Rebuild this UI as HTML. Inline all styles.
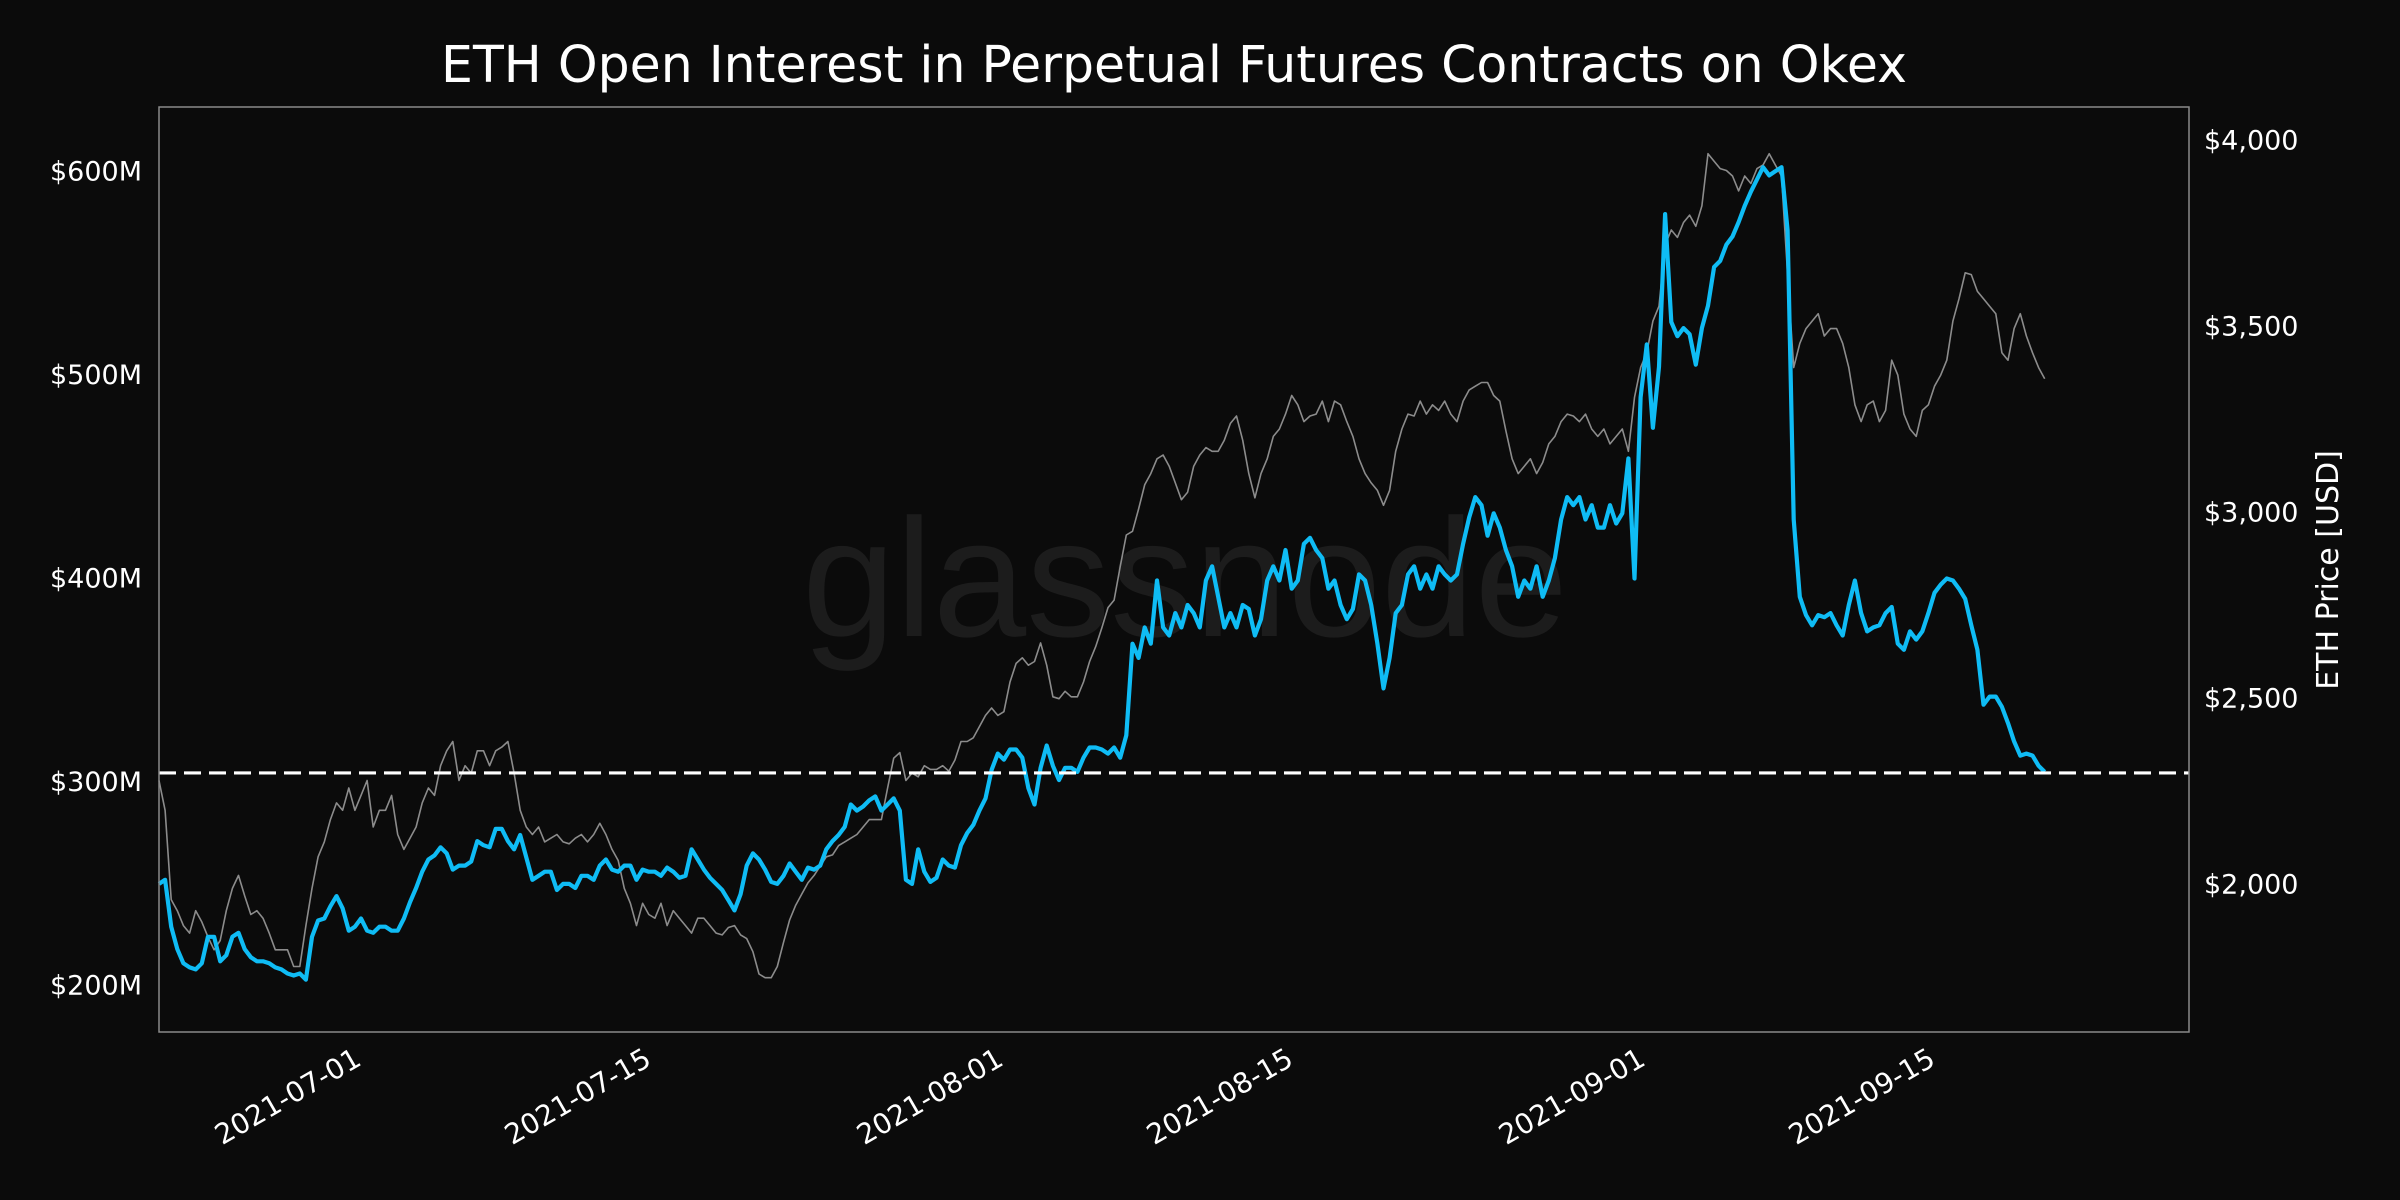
<!DOCTYPE html>
<html><head><meta charset="utf-8"><style>
html,body{margin:0;padding:0;background:#0b0b0b;}
svg{display:block;}
text{font-family:"DejaVu Sans","Liberation Sans",sans-serif;fill:#fff;}
</style></head><body>
<svg id="chart" width="2400" height="1200" viewBox="0 0 2400 1200" xmlns="http://www.w3.org/2000/svg">
<rect width="2400" height="1200" fill="#0b0b0b"/>
<text x="1174" y="82" font-size="50.5" text-anchor="middle">ETH Open Interest in Perpetual Futures Contracts on Okex</text>
<text x="1185" y="636" font-size="168" text-anchor="middle" style="fill:#1c1c1c;font-family:'Liberation Sans',sans-serif">glassnode</text>
<g id="plot"></g>
<rect x="159" y="107" width="2030" height="925" fill="none" stroke="#8a8a8a" stroke-width="1.5"/>
<text transform="translate(2338,570) rotate(-90)" font-size="30" text-anchor="middle">ETH Price [USD]</text>
</svg>
<script>
const startDay = -9.756;          // days relative to 2021-07-01 (2021-06-21 ~06:00)
const stepDays = 0.29564;         // sampling interval (~7.1h)
const leftTicks = [200,300,400,500,600];
const leftTickLabels = ["$200M","$300M","$400M","$500M","$600M"];
const rightTicks = [2000,2500,3000,3500,4000];
const rightTickLabels = ["$2,000","$2,500","$3,000","$3,500","$4,000"];
const dateTicks = [0,14,31,45,62,76];
const dateTickLabels = ["2021-07-01","2021-07-15","2021-08-01","2021-08-15","2021-09-01","2021-09-15"];
const thresholdOI = [304.5];
const openInterest = [250,252,229,218,211,209,208,211,224,224,212,215,224,226,218,214,212,212,211,209,208,206,205,206,203,224,232,233,239,244,238,227,229,233,227,226,229,229,227,227,233,241,248,256,262,264,268,265,257,259,259,261,271,269,268,277,277,271,267,274,263,252,254,256,256,247,250,250,248,254,254,252,259,262,257,256,259,259,252,257,256,256,254,258,256,253,254,267,262,257,253,250,247,242,237,245,259,265,262,257,251,250,254,260,256,252,258,257,259,267,271,274,278,289,286,288,291,293,286,289,292,286,252,250,267,256,251,253,262,259,258,269,275,279,286,292,306,314,311,316,316,312,297,289,307,318,308,301,307,307,305,312,317,317,316,314,317,312,323,368,361,376,368,399,376,372,383,376,387,383,376,399,406,391,376,383,376,387,385,372,380,399,406,399,414,395,399,417,420,414,410,395,399,387,380,385,402,399,387,368,346,361,383,387,402,406,395,402,395,406,402,399,402,417,430,440,436,421,432,425,414,406,391,399,395,406,391,399,410,429,440,436,440,429,436,425,425,436,427,432,459,400,489,515,474,504,579,526,519,523,520,505,523,534,553,556,564,568,575,583,590,596,602,598,600,602,571,429,391,382,377,382,381,383,377,372,387,399,383,374,376,377,383,386,368,365,374,370,374,383,393,397,400,399,395,390,377,365,338,342,342,337,329,320,313,314,313,308,305];
const ethPrice = [2280,2200,1960,1930,1890,1870,1930,1900,1860,1825,1850,1930,1990,2025,1970,1920,1930,1910,1870,1825,1825,1825,1780,1780,1890,1990,2075,2115,2175,2220,2200,2260,2200,2240,2280,2155,2200,2200,2240,2135,2095,2125,2155,2220,2260,2240,2320,2360,2385,2280,2320,2300,2360,2360,2320,2360,2370,2385,2300,2200,2155,2135,2155,2115,2125,2135,2115,2110,2125,2135,2115,2135,2165,2135,2095,2065,1990,1950,1890,1950,1920,1910,1950,1890,1930,1910,1890,1870,1910,1910,1890,1870,1865,1885,1890,1865,1855,1820,1760,1750,1750,1780,1845,1905,1945,1975,2005,2025,2050,2075,2080,2105,2115,2125,2135,2155,2175,2175,2175,2260,2340,2355,2280,2300,2290,2320,2310,2310,2320,2305,2335,2385,2385,2395,2425,2455,2475,2455,2465,2545,2595,2610,2590,2600,2650,2590,2505,2500,2520,2505,2505,2545,2600,2640,2690,2745,2765,2855,2940,2950,3010,3075,3105,3145,3155,3125,3080,3035,3055,3125,3155,3175,3165,3165,3195,3240,3260,3195,3105,3040,3105,3145,3205,3225,3265,3315,3290,3245,3260,3265,3300,3245,3300,3290,3245,3205,3145,3105,3080,3060,3020,3060,3165,3225,3265,3260,3300,3265,3290,3275,3300,3265,3245,3300,3330,3340,3350,3350,3315,3300,3220,3145,3105,3125,3145,3105,3135,3185,3205,3245,3265,3260,3245,3265,3225,3205,3225,3185,3205,3225,3165,3310,3390,3430,3515,3555,3720,3760,3740,3780,3800,3770,3825,3965,3945,3925,3920,3905,3865,3905,3885,3925,3935,3965,3935,3905,3640,3390,3455,3495,3515,3535,3475,3495,3495,3455,3390,3290,3245,3290,3300,3245,3275,3410,3370,3265,3225,3205,3275,3290,3340,3370,3410,3515,3575,3645,3640,3595,3575,3555,3535,3430,3410,3495,3535,3475,3430,3390,3360];

const NS = "http://www.w3.org/2000/svg";
const PL = 159, PR = 2189, PT = 107, PB = 1032;
function xDay(d){ return 361 + 20.71 * d; }
function xIdx(i){ return xDay(startDay + i * stepDays); }
function yOI(v){ return 985.7 - (v - 200) * 2.036; }
function yPrice(p){ return 884.7 - (p - 2000) * 0.372; }
const svg = document.getElementById('chart');
const plot = document.getElementById('plot');
function mk(tag, attrs, parent){
  const e = document.createElementNS(NS, tag);
  for (const k in attrs) e.setAttribute(k, attrs[k]);
  (parent || svg).appendChild(e);
  return e;
}
let d1 = ethPrice.map((p,i)=>(i?'L':'M')+xIdx(i).toFixed(1)+','+yPrice(p).toFixed(1)).join('');
const priceLine = mk('path', {d:d1, fill:'none', stroke:'#8c8c8c', 'stroke-width':1.6, 'stroke-linejoin':'round'}, plot);


let d2 = openInterest.map((v,i)=>(i?'L':'M')+xIdx(i).toFixed(1)+','+yOI(v).toFixed(1)).join('');
const oiLine = mk('path', {d:d2, fill:'none', stroke:'#0fbcf5', 'stroke-width':4.2, 'stroke-linejoin':'round'}, plot);


const th = mk('line', {x1:PL, x2:PR, y1:yOI(thresholdOI[0]), y2:yOI(thresholdOI[0]), stroke:'#fff', 'stroke-width':3.2, 'stroke-dasharray':'17,8'}, plot);


leftTicks.forEach((v,i)=>{
  const t = mk('text', {x:142, y:yOI(v)+9, 'font-size':27, 'text-anchor':'end'});
  t.textContent = leftTickLabels[i];
  
  
});
rightTicks.forEach((v,i)=>{
  const t = mk('text', {x:2204, y:yPrice(v)+9, 'font-size':27, 'text-anchor':'start'});
  t.textContent = rightTickLabels[i];
  
  
});
dateTicks.forEach((d,i)=>{
  const x = xDay(d);
  const t = mk('text', {x:0, y:0, 'font-size':28, 'text-anchor':'end', transform:'translate('+(x+2)+',1064) rotate(-30)'});
  t.textContent = dateTickLabels[i];
  
  
});
</script>
</body></html>
